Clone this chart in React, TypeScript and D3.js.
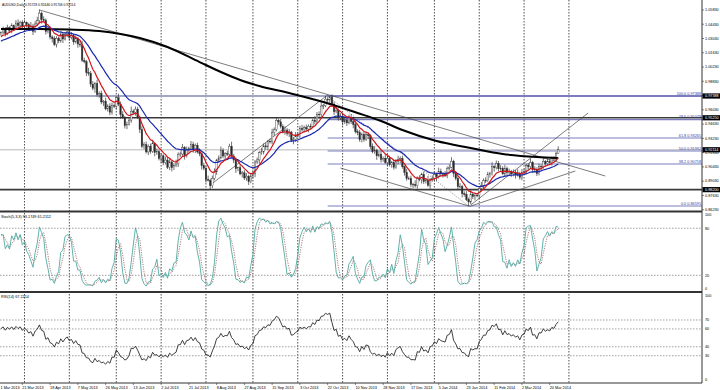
import * as d3 from "d3";
import React from "react";

// AUDUSD daily closes (one per bar, oldest first)
const closes = [
  1.0360, 1.0395, 1.0352, 1.0408, 1.0385,
  1.0430, 1.0398, 1.0455, 1.0430, 1.0462,
  1.0421, 1.0458, 1.0440, 1.0402, 1.0425,
  1.0372, 1.0446, 1.0478, 1.0552, 1.0490,
  1.0480, 1.0372, 1.0395, 1.0318, 1.0302,
  1.0245, 1.0305, 1.0280, 1.0346, 1.0298,
  1.0342, 1.0368, 1.0315, 1.0330, 1.0270,
  1.0305, 1.0248, 1.0240, 1.0090, 1.0075,
  0.9970, 0.9962, 0.9855, 0.9815, 0.9860,
  0.9752, 0.9765, 0.9680, 0.9688, 0.9612,
  0.9640, 0.9580, 0.9645, 0.9638, 0.9722,
  0.9660, 0.9555, 0.9530, 0.9448, 0.9460,
  0.9502, 0.9590, 0.9578, 0.9610, 0.9530,
  0.9410, 0.9245, 0.9262, 0.9190, 0.9245,
  0.9195, 0.9270, 0.9185, 0.9192, 0.9125,
  0.9152, 0.9085, 0.9110, 0.9040, 0.9092,
  0.9035, 0.9055, 0.9072, 0.9168, 0.9170,
  0.9232, 0.9155, 0.9215, 0.9222, 0.9265,
  0.9210, 0.9255, 0.9190, 0.9172, 0.9055,
  0.9030, 0.8918, 0.8912, 0.8858, 0.8930,
  0.8995, 0.9110, 0.9132, 0.9205, 0.9150,
  0.9172, 0.9168, 0.9245, 0.9150, 0.9110,
  0.9025, 0.9035, 0.8975, 0.8985, 0.8935,
  0.8952, 0.8898, 0.8955, 0.8975, 0.9092,
  0.9112, 0.9182, 0.9190, 0.9250, 0.9240,
  0.9295, 0.9288, 0.9380, 0.9410, 0.9500,
  0.9485, 0.9440, 0.9388, 0.9405, 0.9372,
  0.9385, 0.9305, 0.9312, 0.9345, 0.9360,
  0.9422, 0.9408, 0.9428, 0.9415, 0.9442,
  0.9440, 0.9502, 0.9488, 0.9560, 0.9555,
  0.9640, 0.9645, 0.9708, 0.9700, 0.9729,
  0.9660, 0.9585, 0.9600, 0.9525, 0.9540,
  0.9485, 0.9502, 0.9475, 0.9530, 0.9488,
  0.9460, 0.9390, 0.9380, 0.9310, 0.9362,
  0.9312, 0.9360, 0.9350, 0.9245, 0.9195,
  0.9205, 0.9152, 0.9168, 0.9115, 0.9128,
  0.9085, 0.9125, 0.9065, 0.9088, 0.9040,
  0.9098, 0.9115, 0.9128, 0.9045, 0.8990,
  0.8930, 0.8930, 0.8870, 0.8872, 0.8860,
  0.8930, 0.8918, 0.8970, 0.8900, 0.8910,
  0.8862, 0.8920, 0.8930, 0.8970, 0.8948,
  0.9000, 0.8978, 0.8968, 0.8960, 0.9030,
  0.9040, 0.9098, 0.8978, 0.8930, 0.8850,
  0.8852, 0.8780, 0.8775, 0.8722, 0.8699,
  0.8775, 0.8752, 0.8765, 0.8762, 0.8832,
  0.8860, 0.8910, 0.8908, 0.8970, 0.8978,
  0.9048, 0.9035, 0.9078, 0.9025, 0.9030,
  0.8975, 0.9028, 0.8988, 0.9000, 0.8975,
  0.8990, 0.8965, 0.8980, 0.8940, 0.8990,
  0.9000, 0.9058, 0.9045, 0.9088, 0.9015,
  0.9020, 0.8978, 0.9048, 0.9045, 0.9098,
  0.9075, 0.9095, 0.9085, 0.9128, 0.9120,
  0.91728, 0.92114,
];
const firstOpen = 1.035;

// wick lengths in pips above / below the body
const upperWick = [
  12, 25, 18, 30, 15, 22, 10, 28, 35, 14, 20, 26, 12,
  18, 40, 22, 30, 38, 36, 15, 30, 20, 12, 28, 16, 24,
  20, 14, 32, 18, 26, 10, 22, 35, 16, 28, 12, 30, 40,
  25, 18, 45, 22, 30, 15, 38, 20, 26, 12, 34, 18, 28,
  30, 22, 16, 40, 25, 35, 12, 28, 20, 45, 18, 26, 22,
  15, 38, 24, 30, 18, 26, 40, 14, 32, 22, 28, 16, 35,
  20, 30, 12, 26, 42, 18, 24, 36, 15, 28, 20, 32, 25,
  18, 26, 35, 14, 30, 22, 40, 16, 28, 34, 12, 24, 38,
  22, 16, 30, 25, 45, 20, 28, 12, 35, 18, 26, 30, 14,
  28, 35, 18, 24, 16, 40, 22, 30, 14, 26, 38, 20, 32,
  15, 28, 22, 36, 18, 30, 12, 25, 40, 16, 24, 34, 20,
  30, 18, 26, 14, 38, 22, 28, 35, 16, 30, 20, 10, 26,
  24, 40, 16, 28, 20, 34, 18, 25, 30, 14, 36, 22, 28,
  18, 26, 32, 20, 15, 28, 42, 16, 24, 30, 18, 35, 22,
  26, 14, 30, 22, 38, 18, 25, 12, 34, 20, 28, 16, 40,
  20, 32, 16, 28, 24, 45, 14, 30, 22, 18, 36, 26, 12,
  34, 18, 26, 40, 15, 28, 22, 32, 16, 24, 30, 20, 38,
  16, 28, 22, 14, 36, 20, 30, 25, 18, 42, 12, 28, 24,
  30, 20, 35, 18, 26, 14, 28, 22, 40, 16, 32, 24, 18,
  22, 36, 14, 30, 20, 26, 18, 34, 12, 28, 24, 16, 20,
  18, 33,
];
const lowerWick = [
  20, 14, 28, 16, 24, 30, 18, 12, 22, 34, 16, 25, 30,
  26, 18, 35, 14, 22, 28, 40, 16, 30, 20, 24, 38, 15,
  30, 22, 18, 40, 14, 26, 32, 20, 28, 16, 36, 22, 18,
  16, 35, 24, 28, 20, 45, 18, 30, 22, 38, 14, 26, 30,
  24, 18, 30, 22, 40, 16, 28, 34, 12, 26, 20, 32, 18,
  35, 20, 28, 16, 30, 22, 14, 38, 24, 18, 42, 26, 20,
  18, 28, 36, 22, 14, 30, 26, 18, 40, 20, 32, 16, 28,
  30, 16, 24, 38, 20, 28, 12, 34, 22, 18, 30, 26, 14,
  22, 34, 18, 26, 16, 30, 40, 24, 14, 36, 20, 28, 32,
  14, 26, 32, 20, 38, 18, 24, 28, 35, 16, 22, 30, 18,
  28, 20, 16, 30, 24, 36, 18, 40, 22, 14, 34, 20, 26,
  20, 32, 24, 18, 28, 14, 38, 22, 30, 16, 26, 42, 18,
  34, 16, 28, 22, 36, 20, 30, 14, 24, 38, 18, 26, 20,
  26, 22, 14, 35, 28, 18, 24, 40, 16, 30, 22, 12, 34,
  18, 30, 24, 16, 28, 36, 20, 32, 22, 14, 26, 38, 20,
  30, 16, 38, 24, 20, 14, 34, 22, 28, 45, 18, 26, 30,
  16, 28, 22, 12, 34, 20, 26, 18, 36, 24, 14, 40, 22,
  24, 36, 18, 30, 16, 28, 22, 14, 32, 20, 38, 16, 26,
  20, 14, 26, 34, 18, 30, 24, 36, 16, 22, 28, 18, 32,
  28, 22, 30, 16, 24, 18, 34, 20, 26, 14, 22, 30, 18,
  20, 2,
];

// 200-day moving average, sampled off the chart
const ma200Bars = [0, 18, 32, 46, 56, 65, 78, 93, 103, 112, 121, 135, 151, 167, 178, 188, 204, 220, 235, 251, 261];
const ma200Values = [1.0396, 1.0396, 1.0391, 1.0376, 1.0347, 1.0308, 1.022, 1.0072, 0.9974, 0.9896, 0.9837, 0.9768, 0.968, 0.9572, 0.9493, 0.9405, 0.9297, 0.9229, 0.917, 0.914, 0.913];
const fastSeed = 1.0308;
const slowSeed = 1.0269;
// average gain / loss carried in from the bars before the window (RSI 14)
const rsiSeedGain = 0.0032;
const rsiSeedLoss = 0.0021;

const dateLabels = ["1 Mar 2013", "21 Mar 2013", "18 Apr 2013", "7 May 2013", "26 May 2013", "13 Jun 2013", "2 Jul 2013", "21 Jul 2013", "8 Aug 2013", "27 Aug 2013", "15 Sep 2013", "3 Oct 2013", "22 Oct 2013", "10 Nov 2013", "28 Nov 2013", "17 Dec 2013", "5 Jan 2014", "23 Jan 2014", "11 Feb 2014", "2 Mar 2014", "20 Mar 2014"];
const dateLabelBars = [-3, 10, 23, 36, 49, 62, 75, 88, 101, 114, 127, 140, 153, 166, 179, 192, 205, 218, 231, 244, 257];
const gridBars = [11, 32, 54, 75, 96, 118, 139, 160, 181, 203, 224, 245, 266];

const priceTicks = [1.0583, 1.0443, 1.0303, 1.0163, 1.0023, 0.9883, 0.9743, 0.9603, 0.9463, 0.9323, 0.9183, 0.9043, 0.8903, 0.8763, 0.8623];
const stochTicks = [100, 80, 20, 0];
const stochLevels = [80, 20];
const rsiTicks = [100, 70, 60, 40, 30, 0];
const rsiLevels = [70, 60, 40, 30];

// horizontal lines drawn on the chart
const resistancePrices = [0.9525, 0.882];
const bidPrice = 0.92114;
const swingHighPrice = 0.97388;
const axisMarkers = [0.97388, 0.9525, 0.92114, 0.882];

// fibonacci retracement anchors (bar, price) and levels
const fibHigh = { bar: 153, price: 0.97388 };
const fibLow = { bar: 219, price: 0.86595 };
const fibLevels = [100, 78.6, 61.8, 50, 38.2, 0];

// trend lines: [bar, price] -> [bar, price]
const trendLines = [
  { from: [18, 1.0583], to: [283, 0.8954] },
  { from: [98, 0.8865], to: [153, 0.9749] },
  { from: [159, 0.9032], to: [220, 0.8654] },
  { from: [220, 0.8669], to: [275, 0.9572] },
  { from: [220, 0.8659], to: [269, 0.9003] },
];

const title = "AUDUSD,Daily  0.91728 0.92446 0.91706 0.92114";
const stochTitle = "Stoch(5,3,3) 93.1749 61.2112";
const rsiTitle = "RSI(14) 67.2214";

const W = 720;
const H = 390;
const plotRight = 702;
const FONT = "'Liberation Sans', Arial, sans-serif";

export default function App() {
  const n = closes.length;
  const opens = closes.map((c, i) => (i === 0 ? firstOpen : closes[i - 1]));
  const highs = closes.map((c, i) => Math.max(opens[i], c) + upperWick[i] / 10000);
  const lows = closes.map((c, i) => Math.min(opens[i], c) - lowerWick[i] / 10000);

  const x = d3.scaleLinear().domain([0, n - 1]).range([1, 1 + 2.135 * (n - 1)]);
  const y = d3.scaleLinear().domain([fibLow.price, fibHigh.price]).range([206, 96]);
  const yS = d3.scaleLinear().domain([0, 100]).range([291, 212.6]);
  const yR = d3.scaleLinear().domain([0, 100]).range([382.5, 293.2]);

  const ema = (period: number, seed: number) => {
    const a = 2 / (period + 1);
    let v = seed;
    return closes.map((c) => (v = v + a * (c - v)));
  };
  const fast = ema(8, fastSeed);
  const slow = ema(21, slowSeed);

  // Stochastic 5,3,3
  const num: number[] = [];
  const den: number[] = [];
  closes.forEach((c, i) => {
    const s = Math.max(0, i - 4);
    const lo = d3.min(lows.slice(s, i + 1)) as number;
    const hi = d3.max(highs.slice(s, i + 1)) as number;
    num.push(c - lo);
    den.push(hi - lo);
  });
  const kLine = closes.map((_, i) => {
    const s = Math.max(0, i - 2);
    const a = d3.sum(num.slice(s, i + 1));
    const b = d3.sum(den.slice(s, i + 1));
    return b === 0 ? 50 : (a / b) * 100;
  });
  const dLine = kLine.map((_, i) => d3.mean(kLine.slice(Math.max(0, i - 2), i + 1)) as number);

  // RSI 14 (Wilder smoothing)
  let ag = rsiSeedGain;
  let al = rsiSeedLoss;
  const rsi = closes.map((c, i) => {
    if (i > 0) {
      const ch = c - closes[i - 1];
      ag = (ag * 13 + Math.max(ch, 0)) / 14;
      al = (al * 13 + Math.max(-ch, 0)) / 14;
    }
    return 100 - 100 / (1 + ag / al);
  });

  const idx = d3.range(n);
  const priceLine = (vals: number[]) =>
    d3.line<number>().x((i) => x(i)).y((i) => y(vals[i]))(idx) as string;
  const ma200Path = d3
    .line<number>()
    .x((j) => x(ma200Bars[j]))
    .y((j) => y(ma200Values[j]))
    .curve(d3.curveMonotoneX)(d3.range(ma200Bars.length)) as string;
  const stochK = d3.line<number>().x((i) => x(i)).y((i) => yS(kLine[i]))(idx) as string;
  const stochD = d3.line<number>().x((i) => x(i)).y((i) => yS(dLine[i]))(idx) as string;
  const rsiPath = d3.line<number>().x((i) => x(i)).y((i) => yR(rsi[i]))(idx) as string;

  const bodyW = 1.5;
  const fibRange = fibHigh.price - fibLow.price;

  return (
    <svg
      width={W}
      height={H}
      style={{ position: "absolute", left: 0, top: 0, background: "#fff", fontFamily: FONT }}
    >
      <defs>
        <clipPath id="mainClip">
          <rect x={0} y={0} width={plotRight} height={210.5} />
        </clipPath>
        <clipPath id="stochClip">
          <rect x={0} y={212.5} width={plotRight} height={79} />
        </clipPath>
        <clipPath id="rsiClip">
          <rect x={0} y={293} width={plotRight} height={89.5} />
        </clipPath>
      </defs>

      {/* vertical dotted grid */}
      {gridBars.map((b) => (
        <line key={b} x1={x(b)} x2={x(b)} y1={0} y2={383} stroke="#222" strokeWidth={0.8} strokeDasharray="1.5 1.5" />
      ))}

      <g clipPath="url(#mainClip)">
        {/* horizontal levels */}
        <line x1={0} x2={plotRight} y1={y(swingHighPrice)} y2={y(swingHighPrice)} stroke="#a3a6c6" strokeWidth={2} />
        <line x1={0} x2={plotRight} y1={y(bidPrice)} y2={y(bidPrice)} stroke="#cfcfcf" strokeWidth={1.5} />
        {resistancePrices.map((p) => (
          <line key={p} x1={0} x2={plotRight} y1={y(p)} y2={y(p)} stroke="#3a3a3a" strokeWidth={1.6} />
        ))}

        {/* fibonacci */}
        {fibLevels.map((lv) => {
          const p = fibLow.price + (lv / 100) * fibRange;
          return (
            <g key={lv}>
              <line x1={x(fibHigh.bar)} x2={plotRight} y1={y(p)} y2={y(p)} stroke="#7a7ec0" strokeWidth={lv === 100 ? 2 : 1.2} />
              <text x={plotRight - 1} y={y(p) - 1.2} fontSize={3.8} fill="#3c3c98" textAnchor="end">
                {`${lv.toFixed(1)} ${p.toFixed(5)}`}
              </text>
            </g>
          );
        })}
        <line
          x1={x(fibHigh.bar)}
          y1={y(fibHigh.price)}
          x2={x(fibLow.bar)}
          y2={y(fibLow.price)}
          stroke="#555"
          strokeWidth={0.7}
          strokeDasharray="1 1.5"
        />

        {/* trend lines */}
        {trendLines.map((t, k) => (
          <line
            key={k}
            x1={x(t.from[0])}
            y1={y(t.from[1])}
            x2={x(t.to[0])}
            y2={y(t.to[1])}
            stroke="#444"
            strokeWidth={0.7}
          />
        ))}

        {/* candles */}
        {idx.map((i) => {
          const up = closes[i] >= opens[i];
          const top = y(Math.max(opens[i], closes[i]));
          const bot = y(Math.min(opens[i], closes[i]));
          return (
            <g key={i}>
              <line x1={x(i)} x2={x(i)} y1={y(highs[i])} y2={y(lows[i])} stroke="#333" strokeWidth={0.7} />
              <rect
                x={x(i) - bodyW / 2}
                y={top}
                width={bodyW}
                height={Math.max(0.6, bot - top)}
                fill={up ? "#fff" : "#2a2a2a"}
                stroke="#333"
                strokeWidth={0.4}
              />
            </g>
          );
        })}

        {/* moving averages */}
        <path d={ma200Path} fill="none" stroke="#000" strokeWidth={2} />
        <path d={priceLine(slow)} fill="none" stroke="#1828b0" strokeWidth={1.2} />
        <path d={priceLine(fast)} fill="none" stroke="#d0141a" strokeWidth={1.2} />
      </g>

      <text x={2} y={5.5} fontSize={3.3} fill="#000">{title}</text>

      {/* stochastic panel */}
      {stochLevels.map((v) => (
        <line key={v} x1={0} x2={plotRight} y1={yS(v)} y2={yS(v)} stroke="#777" strokeWidth={0.7} strokeDasharray="1.5 1.5" />
      ))}
      <g clipPath="url(#stochClip)">
        <path d={stochD} fill="none" stroke="#9a5c5c" strokeWidth={0.8} strokeDasharray="1.2 1.2" />
        <path d={stochK} fill="none" stroke="#4fa9a2" strokeWidth={0.9} />
      </g>
      <text x={1} y={218} fontSize={3.8} fill="#000">{stochTitle}</text>

      {/* RSI panel */}
      {rsiLevels.map((v) => (
        <line key={v} x1={0} x2={plotRight} y1={yR(v)} y2={yR(v)} stroke="#777" strokeWidth={0.7} strokeDasharray="1.5 1.5" />
      ))}
      <g clipPath="url(#rsiClip)">
        <path d={rsiPath} fill="none" stroke="#111" strokeWidth={0.8} />
      </g>
      <text x={1} y={297.5} fontSize={3.8} fill="#000">{rsiTitle}</text>

      {/* panel separators and frame */}
      <line x1={0} x2={plotRight} y1={211.5} y2={211.5} stroke="#333" strokeWidth={2} />
      <line x1={0} x2={plotRight} y1={292} y2={292} stroke="#333" strokeWidth={2} />
      <line x1={0} x2={plotRight} y1={383} y2={383} stroke="#333" strokeWidth={1} />
      <line x1={plotRight} x2={plotRight} y1={0} y2={383} stroke="#333" strokeWidth={1} />

      {/* price axis */}
      {priceTicks.map((p) => (
        <g key={p}>
          <line x1={plotRight} x2={plotRight + 2} y1={y(p)} y2={y(p)} stroke="#333" strokeWidth={0.6} />
          <text x={plotRight + 3} y={y(p) + 1.3} fontSize={3.8} fill="#000">{p.toFixed(5)}</text>
        </g>
      ))}
      {axisMarkers.map((p) => (
        <g key={p}>
          <rect x={plotRight + 0.5} y={y(p) - 2.6} width={W - plotRight} height={5.2} fill="#000" />
          <text x={plotRight + 3} y={y(p) + 1.3} fontSize={3.8} fill="#fff">{p.toFixed(5)}</text>
        </g>
      ))}

      {/* indicator axes */}
      {stochTicks.map((v) => (
        <text key={v} x={plotRight + 3} y={Math.min(289.5, Math.max(216.3, yS(v) + 1.3))} fontSize={3.8} fill="#000">{v}</text>
      ))}
      {rsiTicks.map((v) => (
        <text key={v} x={plotRight + 3} y={Math.min(381, Math.max(296.6, yR(v) + 1.3))} fontSize={3.8} fill="#000">{v}</text>
      ))}

      {/* date axis */}
      {dateLabels.map((d, k) => (
        <g key={d}>
          <line x1={x(dateLabelBars[k])} x2={x(dateLabelBars[k])} y1={383} y2={385} stroke="#333" strokeWidth={0.6} />
          <text x={Math.max(0.5, x(dateLabelBars[k]))} y={388.5} fontSize={3.8} fill="#000">{d}</text>
        </g>
      ))}
    </svg>
  );
}
